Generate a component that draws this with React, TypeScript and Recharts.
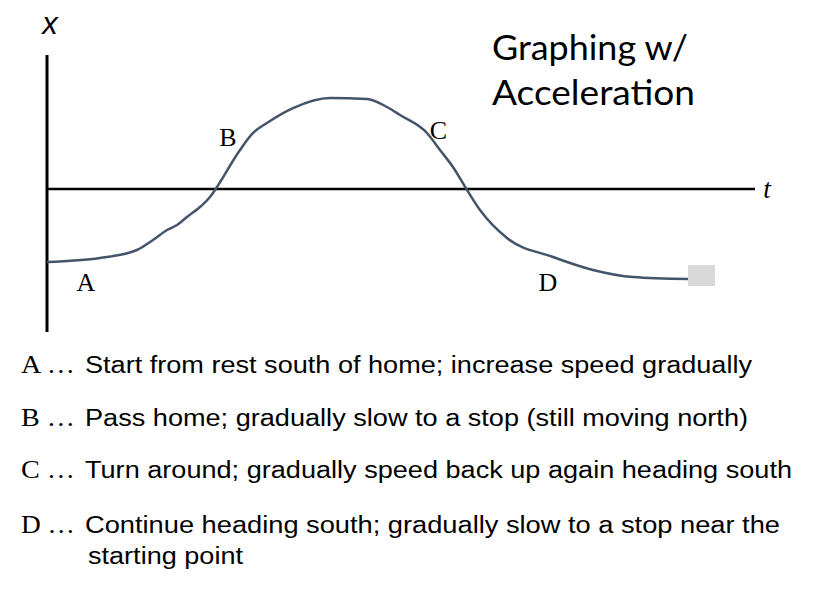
import { LineChart, Line, XAxis, YAxis, ReferenceLine, ReferenceDot, ReferenceArea } from 'recharts';

// time (t) vs position (x) readings, t axis 0..100, x axis -10.67..10
const times = [0, 7.49, 12.71, 14.97, 16.95, 18.36, 19.77, 21.61, 23.02, 23.73, 27.26, 29.1, 31.07, 34.75, 39.97, 45.2, 48.02, 49.86, 53.67, 55.51, 57.34, 59.32, 61.16, 64.97, 71.47, 77.12, 82.77, 90.54];
const positions = [-5.45, -5.15, -4.55, -3.81, -3.06, -2.69, -2.09, -1.34, -0.6, -0.07, 2.91, 4.18, 4.93, 6.04, 6.79, 6.72, 6.12, 5.52, 4.18, 2.91, 1.64, -0.07, -1.57, -3.66, -5.07, -6.04, -6.57, -6.72];

const segmentNames = ['A', 'B', 'C', 'D'];
const segmentT = [5.51, 25.56, 55.3, 70.76];
const segmentX = [-6.94, 3.88, 4.4, -6.94];

const descriptions = [
  'Start from rest south of home; increase speed gradually',
  'Pass home; gradually slow to a stop (still moving north)',
  'Turn around; gradually speed back up again heading south',
  'Continue heading south; gradually slow to a stop near the',
];
const descWidths = [667, 663, 707, 695];
const descBaselines = [373, 426, 478, 533];

const endMarker = { t1: 90.54, t2: 94.35, x1: -7.24, x2: -5.67 };

const data = times.map((t, i) => ({ t, x: positions[i] }));

const SANS = 'Liberation Sans, Arial, sans-serif';
const SERIF = 'Liberation Serif, Times New Roman, serif';

export default function App() {
  return (
    <div style={{ position: 'absolute', left: 0, top: 0, width: 816, height: 613, background: '#fff' }}>
      <LineChart width={816} height={613} data={data} margin={{ top: 55, right: 61, bottom: 281, left: 47 }}>
        <XAxis dataKey="t" type="number" domain={[0, 100]} hide />
        <YAxis type="number" domain={[-10.67, 10]} hide />
        <ReferenceLine x={0} stroke="#000" strokeWidth={3} />
        <ReferenceLine y={0} stroke="#000" strokeWidth={2.5} />
        <ReferenceArea x1={endMarker.t1} x2={endMarker.t2} y1={endMarker.x1} y2={endMarker.x2} fill="#d9d9d9" fillOpacity={1} stroke="none" />
        <Line dataKey="x" type="monotone" stroke="#44546a" strokeWidth={2.5} dot={false} isAnimationActive={false} />
        {segmentNames.map((n, i) => (
          <ReferenceDot key={n} x={segmentT[i]} y={segmentX[i]} r={0} stroke="none"
            label={{ value: n, position: 'center', fill: '#000', fontSize: 26, fontFamily: SERIF }} />
        ))}
      </LineChart>
      <svg width={816} height={613} style={{ position: 'absolute', left: 0, top: 0, pointerEvents: 'none' }}>
        <text x={50} y={34} textAnchor="middle" fontSize={31} fontStyle="italic" fontFamily={SANS} fill="#000">x</text>
        <text x={767} y={198} textAnchor="middle" fontSize={27} fontStyle="italic" fontFamily={SERIF} fill="#000">t</text>
        <text x={492} y={60} fontSize={35} fontFamily="Lato, sans-serif" fill="#000" textLength={196} lengthAdjust="spacingAndGlyphs">Graphing w/</text>
        <text x={492} y={105} fontSize={35} fontFamily="Lato, sans-serif" fill="#000" textLength={203} lengthAdjust="spacingAndGlyphs">Acceleration</text>
        {descriptions.map((d, i) => (
          <g key={i}>
            <text x={21} y={descBaselines[i]} fontSize={25} fontFamily={SERIF} fill="#000" textLength={54} lengthAdjust="spacingAndGlyphs">{segmentNames[i]} …</text>
            <text x={85} y={descBaselines[i]} fontSize={23} fontFamily={SANS} fill="#000" textLength={descWidths[i]} lengthAdjust="spacingAndGlyphs">{d}</text>
          </g>
        ))}
        <text x={88} y={564} fontSize={23} fontFamily={SANS} fill="#000" textLength={155} lengthAdjust="spacingAndGlyphs">starting point</text>
      </svg>
    </div>
  );
}
